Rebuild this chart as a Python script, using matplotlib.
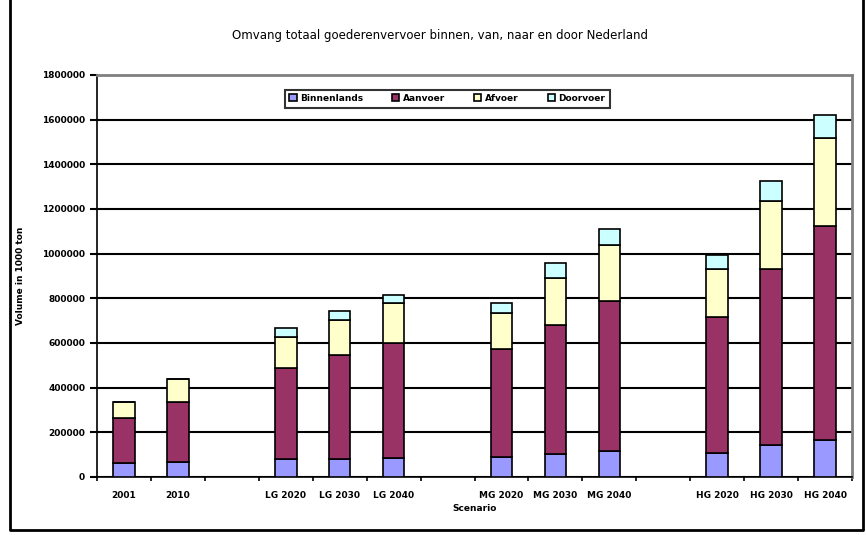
import matplotlib
matplotlib.use("Agg")
import matplotlib.pyplot as plt
import numpy as np
from matplotlib.lines import Line2D

categories = ["2001", "2010", "", "LG 2020", "LG 2030", "LG 2040", "",
              "MG 2020", "MG 2030", "MG 2040", "", "HG 2020", "HG 2030", "HG 2040"]
series_names = ["Binnenlands", "Aanvoer", "Afvoer", "Doorvoer"]
binnenlands = [64000, 67000, 80000, 80000, 86000, 91000, 101000, 116000, 107000, 143000, 166000]
aanvoer = [202000, 269000, 409000, 467000, 512000, 483000, 580000, 670000, 610000, 790000, 960000]
afvoer = [71000, 102000, 136000, 158000, 179000, 161000, 211000, 254000, 216000, 305000, 390000]
doorvoer = [0, 0, 44000, 39000, 40000, 45000, 65000, 69000, 62000, 87000, 104000]
colors = ["#9999FF", "#993366", "#FFFFCC", "#CCFFFF"]
yticks = list(range(0, 1800001, 200000))

title = "Omvang totaal goederenvervoer binnen, van, naar en door Nederland"
ylabel = "Volume in 1000 ton"
xlabel = "Scenario"

fig = plt.figure(figsize=(8.66, 5.35), dpi=100)
ax = fig.add_axes([97/866, 1-477/535, (852-97)/866, (477-75)/535])

xpos = [i for i, c in enumerate(categories) if c]
series = [binnenlands, aanvoer, afvoer, doorvoer]
bottom = np.zeros(len(xpos))
for name, vals, col in zip(series_names, series, colors):
    ax.bar(xpos, vals, bottom=bottom, width=0.4, color=col, edgecolor="black",
           linewidth=1.2, label=name, zorder=3)
    bottom += np.array(vals)

ax.set_xlim(-0.5, len(categories) - 0.5)
ax.set_ylim(0, 1800000)
ax.set_yticks(yticks)
ax.set_yticklabels([str(v) for v in yticks], fontsize=6.5, fontweight="bold")
ax.yaxis.grid(True, color="black", linewidth=1.5, zorder=0)
ax.set_axisbelow(True)
ax.set_xticks(range(len(categories)))
ax.set_xticklabels(categories, fontsize=6.5, fontweight="bold")
ax.tick_params(axis="x", which="major", length=0, pad=10)
ax.set_xticks(np.arange(-0.5, len(categories), 1.0), minor=True)
ax.tick_params(axis="x", which="minor", length=3, width=1.2, direction="out")
ax.tick_params(axis="y", length=5, width=1.5)

for s in ["left", "bottom"]:
    ax.spines[s].set_color("black")
    ax.spines[s].set_linewidth(1.2)
for s in ["top", "right"]:
    ax.spines[s].set_color("#808080")
    ax.spines[s].set_linewidth(2)

ax.set_ylabel(ylabel, fontsize=6.5, fontweight="bold", labelpad=12)
ax.set_xlabel(xlabel, fontsize=6.5, fontweight="bold", labelpad=3)
fig.text(440/866, 1-36/535, title, ha="center", va="center", fontsize=8.5)

leg = ax.legend(loc="upper center", bbox_to_anchor=(0.464, 0.975), ncol=4,
                fontsize=6.5, frameon=True, fancybox=False, edgecolor="black",
                handlelength=0.8, handleheight=0.8, columnspacing=3.2,
                borderpad=0.5, handletextpad=0.4)
leg.get_frame().set_linewidth(1.5)
for t in leg.get_texts():
    t.set_fontweight("bold")

# chart area border (left, bottom, right)
fig.add_artist(Line2D([10/866, 10/866, 863/866, 863/866], [1.0, 5/535, 5/535, 1.0],
                      transform=fig.transFigure, color="black", linewidth=2))

fig.savefig("out.png", dpi=100)
